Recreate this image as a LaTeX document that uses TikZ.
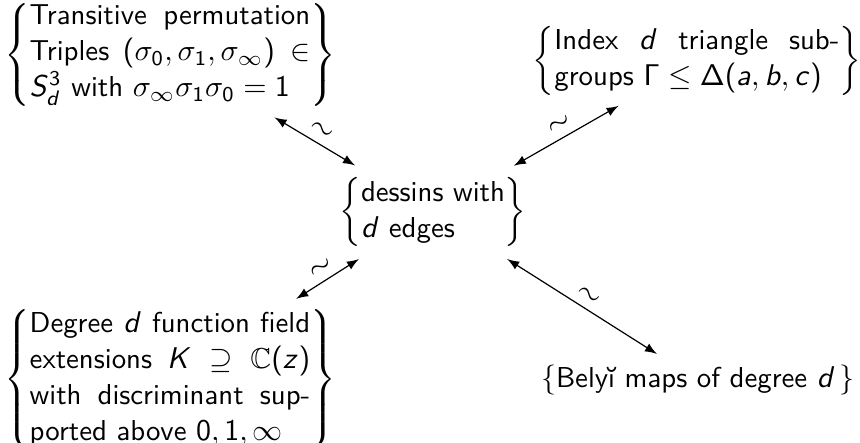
\documentclass[tikz,border=0pt]{standalone}
\usepackage{amssymb}
\usetikzlibrary{arrows}

\SetSymbolFont{operators}{normal}{OT1}{cmss}{m}{n}
\DeclareMathAlphabet{\mathsfit}{OT1}{cmss}{m}{sl}
\newcommand{\sv}[1]{\mathsfit{#1}}
\newcommand{\setof}[2]{$\left\{\parbox{#1}{#2}\right\}$}

\tikzset{
  setbox/.style={inner sep=0pt, font=\fontsize{9.6pt}{12pt}\selectfont\sffamily},
  iso/.style={<->, >=latex, shorten <=6.5pt, shorten >=6.5pt},
  isolabel/.style={sloped, above, inner sep=2pt}
}

\begin{document}
\begin{tikzpicture}[x=0.3333pt,y=-0.3333pt]
  \useasboundingbox (0,0) rectangle (860,443);
  % the four descriptions round the dessins
  \node[setbox] (tl) at (170,55) {\setof{93.5pt}{Transitive permutation\linebreak
    Triples $(\sigma_0,\sigma_1,\sigma_\infty)\in$\linebreak
    $\sv{S}_{\sv{d}}^3$ with $\sigma_\infty\sigma_1\sigma_0=1$}};
  \node[setbox] (tr) at (697,61) {\setof{95pt}{Index $\sv{d}$ triangle sub-\linebreak
    groups $\Gamma\le\Delta(\sv{a},\sv{b},\sv{c})$}};
  \node[setbox] (c) at (433,212) {$\left\{\begin{tabular}{@{}l@{}}dessins with\\
    $\sv{d}$ edges\end{tabular}\right\}$};
  \node[setbox] (bl) at (170,379) {\setof{93.5pt}{Degree $\sv{d}$ function field\linebreak
    extensions $\sv{K}\supseteq\mathbb{C}(\sv{z})$\linebreak
    with discriminant sup-\linebreak
    ported above $0,1,\infty$}};
  \node[setbox] (br) at (698,380) {$\{$Bely\u{\i} maps of degree $\sv{d}$\,$\}$};
  % equivalences
  \draw[iso] (tl) -- node[isolabel] {$\sim$} (c);
  \draw[iso] (c) -- node[isolabel] {$\sim$} (tr);
  \draw[iso] (bl) -- node[isolabel] {$\sim$} (c);
  \draw[iso] (c) -- node[isolabel] {$\sim$} (br);
\end{tikzpicture}
\end{document}
